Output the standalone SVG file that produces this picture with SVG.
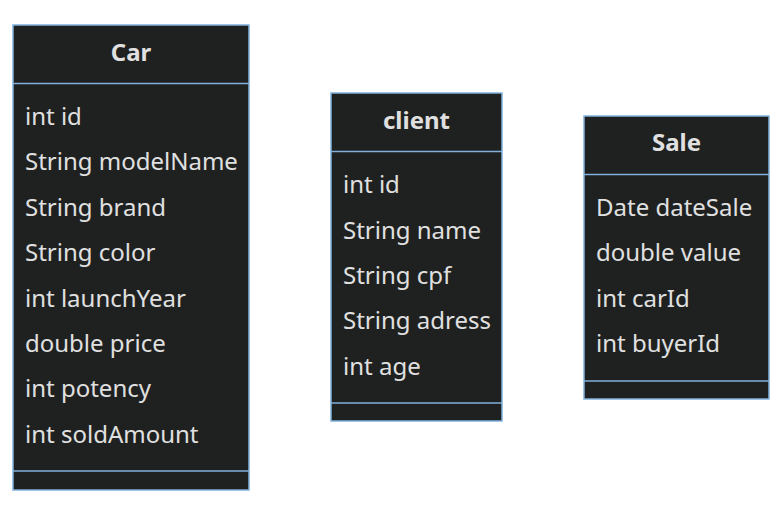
<svg xmlns="http://www.w3.org/2000/svg" width="783" height="515" viewBox="0 0 783 515">
<style>
.box{fill:#1f2020;stroke:#81b1db;stroke-width:1.5}
.div{stroke:#81b1db;stroke-width:1.5}
text{font-family:"Noto Sans","Liberation Sans",sans-serif;font-size:24px;fill:#e0e0e0}
.title{font-weight:bold;text-anchor:middle}
</style>
<rect width="783" height="515" fill="#ffffff"/>
<g id="Car">
<rect class="box" x="13" y="25" width="236" height="465"/>
<line class="div" x1="13" y1="83.5" x2="249" y2="83.5"/>
<line class="div" x1="13" y1="471" x2="249" y2="471"/>
<text class="title" x="131" y="61">Car</text>
<text x="25" y="125">int id</text>
<text x="25" y="170">String modelName</text>
<text x="25" y="216">String brand</text>
<text x="25" y="261">String color</text>
<text x="25" y="307">int launchYear</text>
<text x="25" y="352">double price</text>
<text x="25" y="397">int potency</text>
<text x="25" y="443">int soldAmount</text>
</g>
<g id="client">
<rect class="box" x="331" y="93" width="171" height="328"/>
<line class="div" x1="331" y1="151.5" x2="502" y2="151.5"/>
<line class="div" x1="331" y1="403" x2="502" y2="403"/>
<text class="title" x="416.5" y="129">client</text>
<text x="343" y="193">int id</text>
<text x="343" y="239">String name</text>
<text x="343" y="284">String cpf</text>
<text x="343" y="329">String adress</text>
<text x="343" y="375">int age</text>
</g>
<g id="Sale">
<rect class="box" x="584" y="116" width="185" height="283"/>
<line class="div" x1="584" y1="174.5" x2="769" y2="174.5"/>
<line class="div" x1="584" y1="381" x2="769" y2="381"/>
<text class="title" x="676.5" y="151">Sale</text>
<text x="596" y="216">Date dateSale</text>
<text x="596" y="261">double value</text>
<text x="596" y="307">int carId</text>
<text x="596" y="352">int buyerId</text>
</g>
<g id="connectors"></g>
</svg>
